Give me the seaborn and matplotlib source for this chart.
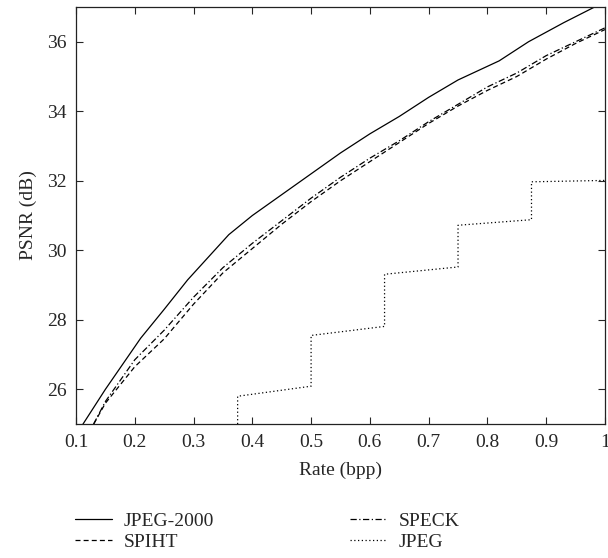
import pandas as pd
import matplotlib
matplotlib.use("Agg")
import matplotlib.pyplot as plt
import seaborn as sns

# Rate-distortion curves
rate_j2k = [0.11, 0.15, 0.21, 0.25, 0.29, 0.36, 0.40, 0.45, 0.50, 0.55, 0.60,
            0.65, 0.70, 0.75, 0.82, 0.87, 0.93, 1.00]
psnr_j2k = [24.95, 26.0, 27.47, 28.3, 29.15, 30.45, 31.0, 31.6, 32.2, 32.8, 33.35,
            33.85, 34.4, 34.9, 35.45, 36.0, 36.55, 37.15]

rate_wav = [0.13, 0.15, 0.20, 0.25, 0.30, 0.35, 0.40, 0.45, 0.50, 0.55, 0.60,
            0.65, 0.70, 0.75, 0.80, 0.85, 0.90, 0.95, 1.00]
psnr_spiht = [25.0, 25.6, 26.65, 27.45, 28.45, 29.35, 30.05, 30.75, 31.4, 32.0, 32.55,
              33.1, 33.65, 34.15, 34.6, 35.0, 35.5, 35.95, 36.35]
psnr_speck = [25.0, 25.65, 26.85, 27.7, 28.65, 29.5, 30.2, 30.85, 31.5, 32.1, 32.65,
              33.15, 33.7, 34.2, 34.7, 35.1, 35.6, 36.0, 36.4]

rate_jpeg = [0.375, 0.375, 0.5, 0.5, 0.625, 0.625, 0.75, 0.75, 0.875, 0.875, 1.0]
psnr_jpeg = [25.0, 25.8, 26.09, 27.55, 27.81, 29.31, 29.52, 30.72, 30.88, 31.97, 32.01]

series = [
    ("JPEG-2000", rate_j2k, psnr_j2k, "-"),
    ("SPIHT", rate_wav, psnr_spiht, (0, (4, 2.5))),
    ("SPECK", rate_wav, psnr_speck, (0, (5, 2, 1, 2))),
    ("JPEG", rate_jpeg, psnr_jpeg, (0, (1, 2))),
]

sns.set_style("ticks")
plt.rcParams["font.family"] = ["Liberation Serif", "DejaVu Serif"]

fig = plt.figure(figsize=(6.08, 5.58), dpi=100)
ax = fig.add_axes([0.125, 0.240, 0.870, 0.7475])

for name, x, y, ls in series:
    df = pd.DataFrame({"Rate": x, "PSNR": y})
    sns.lineplot(data=df, x="Rate", y="PSNR", ax=ax, color="black", linewidth=0.9,
                 estimator=None, sort=False, linestyle=ls, label=name, legend=False)

ax.set_xlim(0.1, 1.0)
ax.set_ylim(25, 37)
ax.set_xticks([0.1, 0.2, 0.3, 0.4, 0.5, 0.6, 0.7, 0.8, 0.9, 1.0])
ax.set_xticklabels(["0.1", "0.2", "0.3", "0.4", "0.5", "0.6", "0.7", "0.8", "0.9", "1"])
ax.set_yticks([26, 28, 30, 32, 34, 36])
ax.tick_params(direction="in", top=True, right=True, labelsize=14, length=5,
               width=0.8, pad=7)
for s in ax.spines.values():
    s.set_linewidth(0.9)
    s.set_color("#222222")
ax.set_xlabel("Rate (bpp)", fontsize=14, labelpad=8)
ax.set_ylabel("PSNR (dB)", fontsize=14, labelpad=7)

h, l = ax.get_legend_handles_labels()
fig.legend(h, l, loc="upper left", bbox_to_anchor=(0.108, 0.100), ncol=2,
           frameon=False, fontsize=14, handlelength=1.9, labelspacing=0.2,
           columnspacing=7.0, handletextpad=0.6, borderpad=0)

fig.savefig("out.png", dpi=100)
